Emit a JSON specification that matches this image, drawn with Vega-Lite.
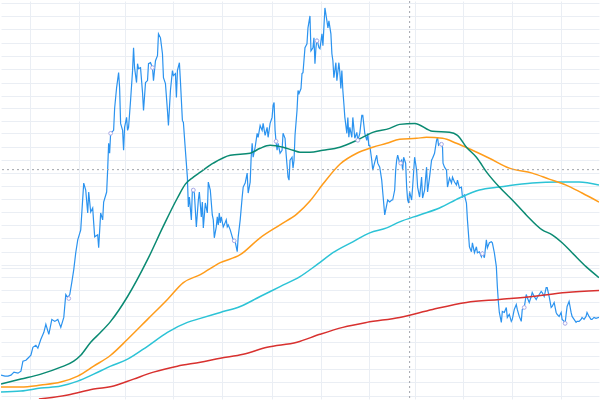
{
  "$schema": "https://vega.github.io/schema/vega-lite/v6.json",
  "width": 600,
  "height": 400,
  "autosize": {"type": "fit", "contains": "padding"},
  "padding": 0,
  "background": "white",
  "config": {
    "view": {"stroke": null},
    "axis": {"labels": false, "ticks": false, "domain": false, "title": null, "grid": true, "gridColor": "#eaeef4", "gridWidth": 1, "gridOpacity": 1}
  },
  "datasets": {
    "price": [
      {"x":0,"p":376},{"x":4,"p":377},{"x":7,"p":377},{"x":10,"p":376},{"x":13,"p":373},{"x":17,"p":374},{"x":20,"p":372},{"x":22,"p":362},{"x":25,"p":361},{"x":27,"p":359},{"x":30,"p":356},{"x":32,"p":348},{"x":35,"p":346},{"x":37,"p":349},{"x":40,"p":340},{"x":43,"p":333},{"x":45,"p":325},{"x":48,"p":335},{"x":51,"p":320},{"x":54,"p":322},{"x":57,"p":320},{"x":60,"p":328},{"x":63,"p":318},{"x":65,"p":295},{"x":67,"p":298},{"x":69,"p":295},{"x":71,"p":283},{"x":73,"p":270},{"x":75,"p":253},{"x":77,"p":240},{"x":80,"p":230},{"x":83,"p":183},{"x":85,"p":190},{"x":87,"p":213},{"x":88,"p":192},{"x":90,"p":212},{"x":92,"p":208},{"x":93,"p":223},{"x":94,"p":237},{"x":97,"p":235},{"x":98,"p":248},{"x":100,"p":213},{"x":102,"p":220},{"x":103,"p":202},{"x":106,"p":192},{"x":107,"p":170},{"x":108,"p":143},{"x":109,"p":153},{"x":110,"p":133},{"x":113,"p":130},{"x":114,"p":108},{"x":116,"p":87},{"x":118,"p":72},{"x":119,"p":87},{"x":120,"p":123},{"x":122,"p":130},{"x":123,"p":150},{"x":124,"p":127},{"x":126,"p":117},{"x":127,"p":130},{"x":128,"p":127},{"x":130,"p":100},{"x":132,"p":70},{"x":133,"p":47},{"x":134,"p":67},{"x":136,"p":82},{"x":137,"p":63},{"x":138,"p":68},{"x":140,"p":67},{"x":142,"p":92},{"x":143,"p":110},{"x":145,"p":82},{"x":147,"p":80},{"x":148,"p":63},{"x":150,"p":62},{"x":152,"p":67},{"x":153,"p":80},{"x":155,"p":60},{"x":157,"p":55},{"x":158,"p":33},{"x":160,"p":37},{"x":162,"p":53},{"x":163,"p":77},{"x":165,"p":83},{"x":167,"p":110},{"x":168,"p":125},{"x":170,"p":90},{"x":172,"p":70},{"x":173,"p":75},{"x":175,"p":73},{"x":176,"p":97},{"x":177,"p":70},{"x":179,"p":62},{"x":180,"p":80},{"x":182,"p":120},{"x":183,"p":122},{"x":185,"p":150},{"x":187,"p":177},{"x":188,"p":207},{"x":189,"p":197},{"x":191,"p":220},{"x":192,"p":190},{"x":194,"p":193},{"x":195,"p":210},{"x":196,"p":227},{"x":198,"p":200},{"x":199,"p":192},{"x":201,"p":217},{"x":202,"p":202},{"x":203,"p":228},{"x":205,"p":203},{"x":207,"p":213},{"x":208,"p":182},{"x":210,"p":190},{"x":212,"p":215},{"x":213,"p":220},{"x":214,"p":238},{"x":216,"p":227},{"x":217,"p":217},{"x":218,"p":225},{"x":219,"p":213},{"x":220,"p":223},{"x":221,"p":217},{"x":223,"p":227},{"x":224,"p":225},{"x":226,"p":220},{"x":227,"p":227},{"x":228,"p":225},{"x":230,"p":230},{"x":232,"p":237},{"x":233,"p":240},{"x":235,"p":242},{"x":237,"p":252},{"x":238,"p":237},{"x":240,"p":220},{"x":242,"p":197},{"x":243,"p":187},{"x":245,"p":183},{"x":247,"p":173},{"x":248,"p":193},{"x":250,"p":182},{"x":251,"p":157},{"x":252,"p":143},{"x":253,"p":157},{"x":255,"p":147},{"x":257,"p":133},{"x":258,"p":137},{"x":260,"p":125},{"x":262,"p":130},{"x":263,"p":123},{"x":265,"p":135},{"x":267,"p":127},{"x":268,"p":137},{"x":270,"p":123},{"x":272,"p":117},{"x":273,"p":105},{"x":274,"p":102},{"x":275,"p":130},{"x":276,"p":142},{"x":277,"p":150},{"x":278,"p":143},{"x":280,"p":153},{"x":282,"p":150},{"x":283,"p":133},{"x":285,"p":138},{"x":286,"p":153},{"x":287,"p":165},{"x":288,"p":177},{"x":289,"p":180},{"x":290,"p":160},{"x":292,"p":157},{"x":293,"p":168},{"x":294,"p":160},{"x":295,"p":135},{"x":297,"p":110},{"x":298,"p":90},{"x":299,"p":93},{"x":301,"p":88},{"x":302,"p":73},{"x":303,"p":72},{"x":305,"p":47},{"x":306,"p":45},{"x":307,"p":43},{"x":308,"p":27},{"x":310,"p":15},{"x":311,"p":50},{"x":313,"p":47},{"x":314,"p":37},{"x":315,"p":63},{"x":316,"p":47},{"x":317,"p":38},{"x":319,"p":47},{"x":320,"p":48},{"x":322,"p":33},{"x":323,"p":45},{"x":325,"p":7},{"x":327,"p":20},{"x":328,"p":27},{"x":329,"p":20},{"x":331,"p":33},{"x":332,"p":53},{"x":333,"p":60},{"x":334,"p":77},{"x":336,"p":62},{"x":337,"p":80},{"x":339,"p":62},{"x":340,"p":72},{"x":341,"p":88},{"x":342,"p":70},{"x":343,"p":90},{"x":344,"p":103},{"x":345,"p":117},{"x":347,"p":133},{"x":348,"p":117},{"x":349,"p":137},{"x":350,"p":127},{"x":352,"p":137},{"x":353,"p":117},{"x":355,"p":138},{"x":357,"p":132},{"x":358,"p":140},{"x":360,"p":133},{"x":362,"p":115},{"x":363,"p":115},{"x":365,"p":133},{"x":367,"p":140},{"x":368,"p":133},{"x":369,"p":145},{"x":370,"p":145},{"x":372,"p":160},{"x":373,"p":170},{"x":375,"p":162},{"x":377,"p":155},{"x":378,"p":163},{"x":380,"p":167},{"x":382,"p":180},{"x":383,"p":192},{"x":385,"p":215},{"x":387,"p":205},{"x":388,"p":200},{"x":390,"p":202},{"x":392,"p":200},{"x":393,"p":200},{"x":395,"p":190},{"x":396,"p":170},{"x":397,"p":160},{"x":398,"p":155},{"x":400,"p":163},{"x":402,"p":160},{"x":403,"p":170},{"x":404,"p":157},{"x":406,"p":163},{"x":407,"p":187},{"x":408,"p":200},{"x":409,"p":203},{"x":410,"p":192},{"x":412,"p":200},{"x":413,"p":187},{"x":415,"p":157},{"x":417,"p":170},{"x":418,"p":187},{"x":420,"p":197},{"x":422,"p":177},{"x":423,"p":198},{"x":425,"p":190},{"x":427,"p":167},{"x":428,"p":192},{"x":430,"p":177},{"x":432,"p":160},{"x":433,"p":158},{"x":435,"p":153},{"x":437,"p":140},{"x":438,"p":137},{"x":439,"p":145},{"x":441,"p":143},{"x":443,"p":147},{"x":443.5,"p":163},{"x":445,"p":167},{"x":447,"p":170},{"x":448,"p":187},{"x":450,"p":178},{"x":452,"p":183},{"x":453,"p":177},{"x":455,"p":182},{"x":457,"p":185},{"x":458,"p":180},{"x":460,"p":188},{"x":462,"p":187},{"x":463,"p":197},{"x":465,"p":195},{"x":467,"p":203},{"x":468,"p":220},{"x":470,"p":247},{"x":472,"p":252},{"x":473,"p":243},{"x":475,"p":253},{"x":477,"p":247},{"x":478,"p":253},{"x":480,"p":252},{"x":482,"p":257},{"x":483,"p":253},{"x":485,"p":258},{"x":487,"p":240},{"x":488,"p":248},{"x":490,"p":243},{"x":492,"p":242},{"x":493,"p":243},{"x":495,"p":253},{"x":497,"p":267},{"x":498,"p":287},{"x":499,"p":302},{"x":500,"p":313},{"x":502,"p":323},{"x":503,"p":312},{"x":505,"p":313},{"x":507,"p":308},{"x":508,"p":318},{"x":510,"p":315},{"x":512,"p":322},{"x":513,"p":320},{"x":515,"p":310},{"x":517,"p":305},{"x":518,"p":310},{"x":520,"p":317},{"x":522,"p":322},{"x":523,"p":310},{"x":525,"p":308},{"x":527,"p":295},{"x":528,"p":298},{"x":530,"p":303},{"x":532,"p":297},{"x":533,"p":293},{"x":535,"p":297},{"x":537,"p":300},{"x":538,"p":298},{"x":540,"p":295},{"x":542,"p":292},{"x":543,"p":293},{"x":545,"p":297},{"x":547,"p":288},{"x":548,"p":288},{"x":550,"p":297},{"x":552,"p":308},{"x":553,"p":307},{"x":555,"p":303},{"x":557,"p":313},{"x":558,"p":315},{"x":560,"p":317},{"x":562,"p":313},{"x":563,"p":320},{"x":565,"p":322},{"x":566,"p":324},{"x":567,"p":315},{"x":568,"p":307},{"x":570,"p":302},{"x":572,"p":313},{"x":573,"p":317},{"x":575,"p":320},{"x":577,"p":323},{"x":578,"p":322},{"x":580,"p":322},{"x":582,"p":320},{"x":583,"p":318},{"x":585,"p":320},{"x":587,"p":317},{"x":588,"p":313},{"x":590,"p":317},{"x":592,"p":320},{"x":593,"p":320},{"x":595,"p":318},{"x":597,"p":319},{"x":600,"p":318}
    ],
    "ma": [
      {"s":"MA200","x":38,"p":400},{"s":"MA200","x":67,"p":396},{"s":"MA200","x":93,"p":390},{"s":"MA200","x":113,"p":387},{"s":"MA200","x":133,"p":380},{"s":"MA200","x":153,"p":373},{"s":"MA200","x":177,"p":367},{"s":"MA200","x":200,"p":363},{"s":"MA200","x":220,"p":359},{"s":"MA200","x":243,"p":355},{"s":"MA200","x":267,"p":348},{"s":"MA200","x":297,"p":343},{"s":"MA200","x":320,"p":335},{"s":"MA200","x":343,"p":328},{"s":"MA200","x":367,"p":323},{"s":"MA200","x":400,"p":318},{"s":"MA200","x":433,"p":310},{"s":"MA200","x":467,"p":303},{"s":"MA200","x":500,"p":300},{"s":"MA200","x":533,"p":297},{"s":"MA200","x":567,"p":293},{"s":"MA200","x":600,"p":291},
      {"s":"MA100","x":0,"p":393},{"s":"MA100","x":20,"p":392},{"s":"MA100","x":40,"p":389},{"s":"MA100","x":60,"p":387},{"s":"MA100","x":77,"p":382},{"s":"MA100","x":93,"p":375},{"s":"MA100","x":110,"p":367},{"s":"MA100","x":127,"p":360},{"s":"MA100","x":147,"p":347},{"s":"MA100","x":167,"p":333},{"s":"MA100","x":187,"p":323},{"s":"MA100","x":200,"p":319},{"s":"MA100","x":220,"p":313},{"s":"MA100","x":240,"p":307},{"s":"MA100","x":260,"p":297},{"s":"MA100","x":280,"p":287},{"s":"MA100","x":300,"p":277},{"s":"MA100","x":317,"p":265},{"s":"MA100","x":333,"p":253},{"s":"MA100","x":353,"p":242},{"s":"MA100","x":370,"p":233},{"s":"MA100","x":387,"p":228},{"s":"MA100","x":400,"p":222},{"s":"MA100","x":420,"p":215},{"s":"MA100","x":440,"p":208},{"s":"MA100","x":460,"p":198},{"s":"MA100","x":480,"p":190},{"s":"MA100","x":500,"p":187},{"s":"MA100","x":533,"p":183},{"s":"MA100","x":560,"p":182},{"s":"MA100","x":580,"p":182},{"s":"MA100","x":600,"p":185},
      {"s":"MA50","x":0,"p":388},{"s":"MA50","x":20,"p":388},{"s":"MA50","x":40,"p":386},{"s":"MA50","x":60,"p":383},{"s":"MA50","x":77,"p":377},{"s":"MA50","x":93,"p":367},{"s":"MA50","x":110,"p":356},{"s":"MA50","x":127,"p":340},{"s":"MA50","x":147,"p":320},{"s":"MA50","x":167,"p":300},{"s":"MA50","x":183,"p":283},{"s":"MA50","x":200,"p":275},{"s":"MA50","x":220,"p":263},{"s":"MA50","x":240,"p":255},{"s":"MA50","x":260,"p":238},{"s":"MA50","x":280,"p":225},{"s":"MA50","x":297,"p":214},{"s":"MA50","x":310,"p":201},{"s":"MA50","x":323,"p":184},{"s":"MA50","x":340,"p":164},{"s":"MA50","x":357,"p":153},{"s":"MA50","x":373,"p":147},{"s":"MA50","x":387,"p":143},{"s":"MA50","x":400,"p":139},{"s":"MA50","x":417,"p":138},{"s":"MA50","x":427,"p":137},{"s":"MA50","x":443,"p":138},{"s":"MA50","x":457,"p":143},{"s":"MA50","x":473,"p":150},{"s":"MA50","x":490,"p":158},{"s":"MA50","x":510,"p":168},{"s":"MA50","x":533,"p":173},{"s":"MA50","x":550,"p":179},{"s":"MA50","x":567,"p":185},{"s":"MA50","x":583,"p":193},{"s":"MA50","x":600,"p":202},
      {"s":"MA20","x":0,"p":385},{"s":"MA20","x":20,"p":380},{"s":"MA20","x":40,"p":375},{"s":"MA20","x":60,"p":368},{"s":"MA20","x":73,"p":362},{"s":"MA20","x":80,"p":356},{"s":"MA20","x":90,"p":343},{"s":"MA20","x":100,"p":333},{"s":"MA20","x":110,"p":322},{"s":"MA20","x":127,"p":297},{"s":"MA20","x":147,"p":260},{"s":"MA20","x":163,"p":226},{"s":"MA20","x":177,"p":198},{"s":"MA20","x":185,"p":184},{"s":"MA20","x":193,"p":177},{"s":"MA20","x":200,"p":172},{"s":"MA20","x":213,"p":163},{"s":"MA20","x":230,"p":155},{"s":"MA20","x":250,"p":153},{"s":"MA20","x":260,"p":148},{"s":"MA20","x":270,"p":145},{"s":"MA20","x":283,"p":147},{"s":"MA20","x":293,"p":150},{"s":"MA20","x":300,"p":152},{"s":"MA20","x":310,"p":152},{"s":"MA20","x":323,"p":150},{"s":"MA20","x":340,"p":147},{"s":"MA20","x":357,"p":140},{"s":"MA20","x":373,"p":132},{"s":"MA20","x":390,"p":128},{"s":"MA20","x":400,"p":124},{"s":"MA20","x":415,"p":123},{"s":"MA20","x":433,"p":131},{"s":"MA20","x":450,"p":132},{"s":"MA20","x":458,"p":135},{"s":"MA20","x":467,"p":147},{"s":"MA20","x":477,"p":157},{"s":"MA20","x":488,"p":173},{"s":"MA20","x":500,"p":187},{"s":"MA20","x":513,"p":200},{"s":"MA20","x":527,"p":215},{"s":"MA20","x":543,"p":230},{"s":"MA20","x":553,"p":235},{"s":"MA20","x":563,"p":243},{"s":"MA20","x":573,"p":253},{"s":"MA20","x":587,"p":267},{"s":"MA20","x":600,"p":278}
    ],
    "marks": [
      {"x":68,"p":299},{"x":110,"p":133},{"x":152,"p":67},{"x":193,"p":190},{"x":234,"p":241},{"x":276,"p":141},{"x":317,"p":40},{"x":358,"p":140},{"x":401,"p":163},{"x":442,"p":144},{"x":483,"p":254},{"x":525,"p":308},{"x":566,"p":324}
    ],
    "cross": [{"cx": 410, "cy": 169.5}]
  },
  "layer": [
    {
      "data": {"name": "price"},
      "mark": {"type": "line", "color": "#2b93ef", "strokeWidth": 1.2, "clip": true},
      "encoding": {
        "x": {"field": "x", "type": "quantitative", "scale": {"domain": [0, 600], "nice": false, "zero": false},
              "axis": {"tickCount": 60, "values": [29, 78, 124, 173, 222, 272, 321, 369, 415, 464, 513, 562]}},
        "y": {"field": "p", "type": "quantitative", "scale": {"domain": [400, 0], "nice": false, "zero": false},
              "axis": {"tickCount": 60, "values": [2, 15, 28, 42, 55, 68, 82, 95, 108, 121, 133, 147, 160, 173, 186, 199, 212, 225, 238, 252, 265, 268, 277, 290, 303, 317, 330, 343, 357, 370, 383, 397]}}
      }
    },
    {
      "data": {"name": "ma"},
      "mark": {"type": "line", "strokeWidth": 1.5, "clip": true, "interpolate": "monotone"},
      "encoding": {
        "x": {"field": "x", "type": "quantitative"},
        "y": {"field": "p", "type": "quantitative"},
        "color": {"field": "s", "type": "nominal", "scale": {"domain": ["MA200", "MA100", "MA50", "MA20"], "range": ["#d8312f", "#2cc3d6", "#ff9c1a", "#0a8a72"]}, "legend": null}
      }
    },
    {
      "data": {"name": "marks"},
      "mark": {"type": "point", "filled": false, "fill": "white", "fillOpacity": 1, "stroke": "#a9a8e6", "strokeWidth": 1, "size": 14, "clip": true},
      "encoding": {
        "x": {"field": "x", "type": "quantitative"},
        "y": {"field": "p", "type": "quantitative"}
      }
    },
    {
      "data": {"name": "cross"},
      "mark": {"type": "rule", "color": "#a0a3ab", "strokeWidth": 1, "strokeDash": [2, 3]},
      "encoding": {
        "y": {"field": "cy", "type": "quantitative"}
      }
    },
    {
      "data": {"name": "cross"},
      "mark": {"type": "rule", "color": "#a0a3ab", "strokeWidth": 1, "strokeDash": [2, 3]},
      "encoding": {
        "x": {"field": "cx", "type": "quantitative"}
      }
    }
  ]
}
